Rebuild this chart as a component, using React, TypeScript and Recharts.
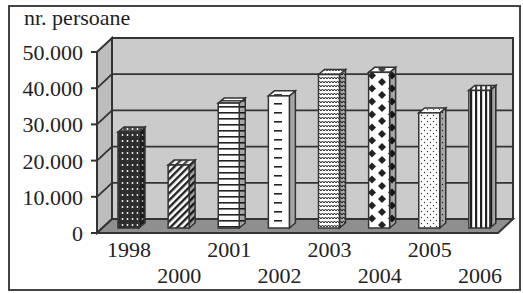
import React from 'react';
import { BarChart, Bar, XAxis, YAxis, ReferenceArea } from 'recharts';

const years = ['1998', '2000', '2001', '2002', '2003', '2004', '2005', '2006'];
const persons = [26500, 17400, 34500, 36500, 42400, 43000, 31800, 38000];
const yTicks = [0, 10000, 20000, 30000, 40000, 50000];
const fills = ['dots', 'diag', 'hlines', 'dashes', 'zigzag', 'diamonds', 'fine', 'vlines'];

const data = years.map((year, i) => ({ year, value: persons[i] }));

const FONT = '"Liberation Serif", "Times New Roman", serif';
const INK = '#333';
const DX = 15, DY = 14; // depth of the box
const BX = 6, BY = 5; // depth of one bar
const YMAX = 50000;

const fmt = (v: number) => (v === 0 ? '0' : `${Math.round(v / 1000)}.000`);

function Patterns() {
    return (
        <svg width={0} height={0} style={{ position: 'absolute' }}>
            <defs>
                <pattern id="dots" width={5} height={6} patternUnits="userSpaceOnUse">
                    <rect width={5} height={6} fill="#2e2e2e" />
                    <circle cx={2.5} cy={3} r={0.9} fill="#fff" />
                </pattern>
                <pattern id="diag" width={5} height={5} patternUnits="userSpaceOnUse" patternTransform="rotate(45)">
                    <rect width={5} height={5} fill="#fff" />
                    <rect width={2.4} height={5} fill="#222" />
                </pattern>
                <pattern id="hlines" width={4} height={6} patternUnits="userSpaceOnUse">
                    <rect width={4} height={6} fill="#fff" />
                    <rect y={4} width={4} height={1.6} fill="#222" />
                </pattern>
                <pattern id="dashes" width={21} height={9} patternUnits="userSpaceOnUse">
                    <rect width={21} height={9} fill="#fff" />
                    <rect x={1} y={4} width={8} height={1.6} fill="#222" />
                </pattern>
                <pattern id="zigzag" width={6} height={4} patternUnits="userSpaceOnUse">
                    <rect width={6} height={4} fill="#fff" />
                    <path d="M0,3 L1.5,1 L3,3 L4.5,1 L6,3" stroke="#222" strokeWidth={1} fill="none" />
                </pattern>
                <pattern id="diamonds" width={20} height={13} patternUnits="userSpaceOnUse">
                    <rect width={20} height={13} fill="#fff" />
                    <polygon points="2,0 6,4 2,8 -2,4" fill="#222" />
                    <polygon points="22,0 26,4 22,8 18,4" fill="#222" />
                    <polygon points="12,6.5 16,10.5 12,14.5 8,10.5" fill="#222" />
                    <polygon points="12,-6.5 16,-2.5 12,1.5 8,-2.5" fill="#222" />
                </pattern>
                <pattern id="fine" width={6} height={6} patternUnits="userSpaceOnUse">
                    <rect width={6} height={6} fill="#fff" />
                    <circle cx={1.5} cy={1.5} r={0.7} fill="#333" />
                    <circle cx={4.5} cy={4.5} r={0.7} fill="#333" />
                </pattern>
                <pattern id="vlines" width={5} height={5} patternUnits="userSpaceOnUse">
                    <rect width={5} height={5} fill="#fff" />
                    <rect width={2.2} height={5} fill="#222" />
                </pattern>
            </defs>
        </svg>
    );
}

// walls, floor and grid of the 3D box
function Box(props: any) {
    const { x, y, width, height } = props;
    const bottom = y + height;
    const gy = yTicks.slice(1, -1).map((v) => bottom - (v / YMAX) * height);
    return (
        <g>
            <rect x={x + DX} y={y - DY} width={width} height={height} fill="#cbcbcb" stroke={INK} strokeWidth={2} />
            <polygon
                points={`${x},${y} ${x + DX},${y - DY} ${x + DX},${bottom - DY} ${x},${bottom}`}
                fill="#bdbdbd" stroke={INK} strokeWidth={2}
            />
            {gy.map((g, i) => (
                <g key={i}>
                    <line x1={x + DX} y1={g - DY} x2={x + DX + width} y2={g - DY} stroke={INK} strokeWidth={1.8} />
                    <line x1={x} y1={g} x2={x + DX} y2={g - DY} stroke={INK} strokeWidth={1.8} />
                </g>
            ))}
            <polygon
                points={`${x},${bottom} ${x + width},${bottom} ${x + width + DX},${bottom - DY} ${x + DX},${bottom - DY}`}
                fill="#8f8f8f" stroke={INK} strokeWidth={2}
            />
        </g>
    );
}

function Bar3D(props: any) {
    const { x, y, width, height, index } = props;
    const f = `url(#${fills[index]})`;
    const x0 = x + BX, y0 = y - BY;
    const side = `${x0 + width},${y0} ${x0 + width + BX},${y0 - BY} ${x0 + width + BX},${y0 + height - BY} ${x0 + width},${y0 + height}`;
    const top = `${x0},${y0} ${x0 + BX},${y0 - BY} ${x0 + width + BX},${y0 - BY} ${x0 + width},${y0}`;
    return (
        <g>
            <polygon points={side} fill={f} />
            <polygon points={side} fill="#000" fillOpacity={0.35} stroke={INK} strokeWidth={1.5} />
            <polygon points={top} fill={f} />
            <polygon points={top} fill="#fff" fillOpacity={0.15} stroke={INK} strokeWidth={1.5} />
            <rect x={x0} y={y0} width={width} height={height} fill={f} stroke={INK} strokeWidth={1.5} />
        </g>
    );
}

function YearTick(props: any) {
    const { x, y, payload, index } = props;
    const low = index % 2 === 1;
    return (
        <text x={x + 7} y={y + (low ? 50 : 24)} textAnchor="middle" fill="#222" fontSize={22} fontFamily={FONT}>
            {payload.value}
        </text>
    );
}

function ValueTick(props: any) {
    const { x, y, payload } = props;
    return (
        <text x={x} y={y + 8} textAnchor="end" fill="#222" fontSize={22} fontFamily={FONT}>
            {fmt(payload.value)}
        </text>
    );
}

export default function App() {
    return (
        <div style={{ position: 'absolute', left: 0, top: 0, width: 523, height: 293, background: '#fff' }}>
            <Patterns />
            <div style={{
                position: 'absolute', left: 8, top: 5, width: 513, height: 286,
                border: '2px solid #444', boxSizing: 'border-box',
            }} />
            <div style={{ position: 'absolute', left: 0, top: 0 }}>
                <BarChart width={523} height={293} data={data} barSize={21}
                    margin={{ top: 52, right: 25, left: 0, bottom: 0 }}>
                    <ReferenceArea y1={0} y2={YMAX} shape={Box} ifOverflow="visible" />
                    <XAxis dataKey="year" height={60} axisLine={false} tickLine={false}
                        tickSize={0} tickMargin={0} interval={0} tick={YearTick} />
                    <YAxis width={97} domain={[0, YMAX]} ticks={yTicks} interval={0}
                        tickSize={6} tickMargin={8}
                        axisLine={{ stroke: INK, strokeWidth: 2 }}
                        tickLine={{ stroke: INK, strokeWidth: 2 }}
                        tick={ValueTick} />
                    <Bar dataKey="value" shape={Bar3D} isAnimationActive={false} />
                </BarChart>
            </div>
            <div style={{
                position: 'absolute', left: 24, top: 3, fontFamily: FONT, fontSize: 22, color: '#222', lineHeight: '30px',
            }}>
                nr. persoane
            </div>
        </div>
    );
}
